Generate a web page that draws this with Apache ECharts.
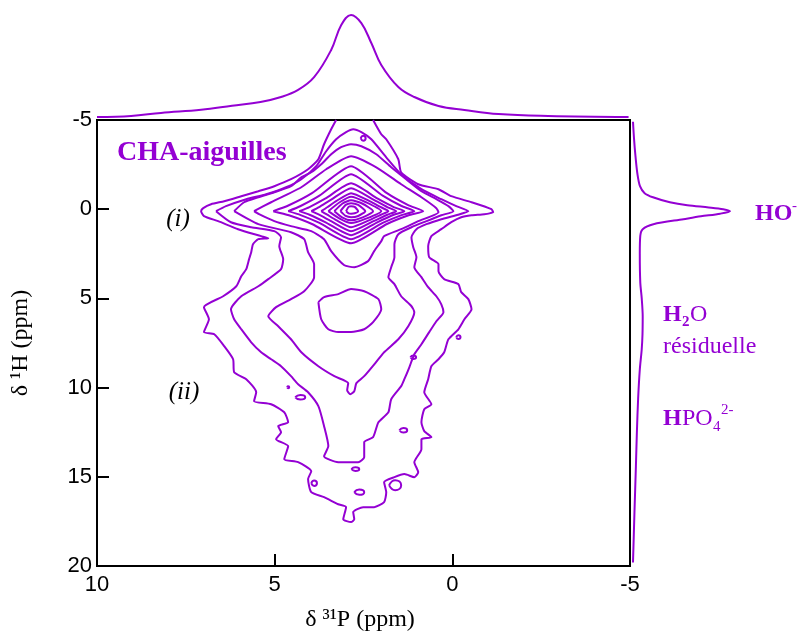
<!DOCTYPE html>
<html><head><meta charset="utf-8">
<script src="https://cdn.jsdelivr.net/npm/echarts@6/dist/echarts.min.js"></script>
<style>html,body{margin:0;padding:0;background:#fff}#chart{width:801px;height:636px}</style>
</head><body><div id="chart"></div>
<script>
const PURPLE = '#9400d3';
const SERIF = '"Liberation Serif","Times New Roman",serif';
const SANS = '"Liberation Sans",Arial,sans-serif';

// axis ranges (ppm)
const pRange = [-5, 10];   // 31P
const hRange = [-5, 20];   // 1H
const tickStep = 5;

// top projection (31P ppm, relative intensity)
const pProjPpm = [10, 9.04, 8.2, 7.07, 6.2, 5.4, 4.82, 4.34, 3.89, 3.41, 3.13, 2.85, 2.56, 2.28, 2.0, 1.52, 1.07, 0.39, -0.34, -1.3, -2.7, -4.96];
const pProjInt = [0, 0.01, 0.04, 0.07, 0.11, 0.147, 0.196, 0.265, 0.39, 0.657, 0.90, 1.0, 0.92, 0.725, 0.51, 0.294, 0.196, 0.108, 0.069, 0.029, 0.01, 0];

// right projection (1H ppm, relative intensity)
const hProjPpm = [-4.9, -4.0, -3.0, -2.0, -1.29, -0.9, -0.67, -0.39, -0.22, -0.1, 0.0, 0.11, 0.25, 0.4, 0.56, 0.84, 1.12, 1.5, 2.5, 4.1, 5.0, 6.0, 7.0, 7.85, 9.0, 10.6, 12.5, 14.4, 17.0, 19.8];
const hProjInt = [0.0, 0.01, 0.025, 0.045, 0.072, 0.12, 0.206, 0.38, 0.56, 0.78, 0.93, 1.0, 0.90, 0.70, 0.52, 0.21, 0.10, 0.075, 0.07, 0.075, 0.09, 0.10, 0.098, 0.09, 0.07, 0.053, 0.04, 0.03, 0.015, 0.0];

// contour levels [31P ppm, 1H ppm]
const contourC1 = [[3.27,-5.0],[3.41,-4.48],[3.61,-3.64],[3.77,-2.80],[4.06,-2.24],[4.54,-1.68],[5.01,-1.29],[5.46,-1.01],[5.94,-0.73],[6.42,-0.45],[6.79,-0.28],[7.01,-0.06],[7.07,0.11],[6.99,0.39],[6.59,0.67],[6.03,1.12],[5.38,1.51],[5.18,1.63],[5.46,1.68],[5.61,1.96],[5.66,2.41],[5.72,2.80],[5.80,3.36],[5.94,3.76],[6.08,4.32],[6.45,4.88],[6.99,5.49],[6.85,6.17],[6.99,6.89],[6.70,7.01],[6.42,7.68],[6.17,8.41],[6.14,9.14],[5.80,9.53],[5.52,10.26],[5.58,10.76],[5.10,10.93],[4.73,11.38],[4.62,11.94],[4.90,12.16],[4.82,12.50],[4.96,12.89],[4.62,13.28],[4.73,14.01],[4.34,14.18],[3.97,14.69],[4.06,15.13],[3.97,15.86],[3.61,16.14],[3.21,16.54],[2.99,16.70],[3.07,17.38],[2.85,17.54],[2.76,17.38],[2.79,16.98],[2.51,16.70],[2.20,16.70],[1.92,16.42],[1.86,15.86],[1.92,15.30],[1.63,15.02],[1.35,14.85],[1.07,15.02],[0.96,14.74],[1.07,14.18],[0.87,13.45],[0.87,12.89],[0.59,12.78],[0.79,12.44],[0.87,11.94],[0.79,11.21],[0.59,10.93],[0.79,10.26],[0.68,9.53],[0.59,8.80],[0.39,8.41],[0.23,8.02],[0.11,7.29],[-0.17,6.73],[-0.34,6.17],[-0.54,5.61],[-0.45,5.04],[-0.25,4.65],[-0.17,4.20],[0.23,3.92],[0.39,3.48],[0.39,3.08],[0.65,2.69],[0.68,2.07],[0.59,1.51],[0.31,1.12],[0.03,0.73],[-0.25,0.45],[-0.54,0.34],[-0.90,0.28],[-1.15,0.17],[-1.10,0],[-0.54,-0.39],[0.03,-0.73],[0.39,-1.12],[0.96,-1.40],[1.44,-2.07],[1.52,-2.80],[1.86,-3.92],[2.00,-4.20],[2.23,-5.0]];
const contourC2 = [[6.65,0.11],[6.37,-0.17],[5.80,-0.56],[5.24,-0.84],[4.68,-1.23],[4.25,-1.68],[3.83,-2.41],[3.55,-3.25],[3.27,-3.92],[2.99,-4.32],[2.79,-4.48],[2.56,-4.32],[2.28,-3.92],[1.86,-2.91],[1.44,-1.96],[0.87,-1.12],[0.31,-0.56],[-0.11,-0.17],[-0.45,0.11],[-0.11,0.34],[0.31,0.56],[0.73,0.84],[1.01,1.12],[1.15,1.57],[1.10,2.13],[1.01,2.69],[1.07,3.25],[0.87,3.81],[0.68,4.37],[0.45,4.88],[0.31,5.33],[0.25,5.77],[0.45,6.28],[0.65,6.89],[0.87,7.57],[1.07,8.13],[1.21,8.86],[1.35,9.53],[1.44,9.92],[1.72,10.65],[1.80,11.38],[2.08,11.94],[2.23,12.78],[2.48,13.06],[2.48,13.90],[2.65,14.18],[3.21,14.18],[3.61,13.85],[3.49,13.28],[3.61,12.16],[3.77,11.04],[4.06,10.26],[4.34,9.81],[4.54,9.36],[4.82,8.80],[5.10,8.41],[5.38,8.02],[5.66,7.46],[5.94,6.73],[6.14,6.17],[6.23,5.61],[5.94,4.88],[5.46,4.32],[5.18,3.92],[4.82,3.36],[4.76,2.80],[4.87,2.07],[4.82,1.57],[5.01,1.23],[5.66,1.01],[6.23,0.73],[6.65,0.11]];
const contourC3 = [[6.14,0.11],[5.86,-0.39],[5.46,-0.67],[5.01,-0.95],[4.54,-1.29],[4.25,-1.79],[3.97,-2.07],[3.69,-2.52],[3.41,-3.08],[3.13,-3.48],[2.85,-3.64],[2.56,-3.53],[2.14,-3.08],[1.72,-2.35],[1.30,-1.68],[0.87,-1.01],[0.45,-0.56],[0.11,-0.17],[-0.03,0.11],[0.31,0.34],[0.73,0.67],[1.15,1.01],[1.52,1.40],[1.63,1.96],[1.63,2.69],[1.72,3.25],[1.80,3.81],[1.63,4.20],[1.44,4.88],[1.15,5.44],[1.07,5.77],[1.24,6.56],[1.52,7.29],[1.92,8.02],[2.08,8.41],[2.48,9.36],[2.70,9.75],[2.76,10.20],[2.87,10.37],[2.96,10.15],[2.93,9.75],[3.32,9.36],[3.77,8.80],[4.25,8.02],[4.54,7.29],[4.90,6.56],[5.18,6.00],[4.96,5.49],[4.54,5.04],[4.17,4.60],[3.89,3.81],[3.89,3.08],[4.06,2.41],[4.17,1.68],[4.54,1.29],[5.46,0.84],[6.14,0.11]];
const contourC4 = [[3.77,5.21],[3.69,6.17],[3.49,6.73],[3.21,6.89],[2.85,6.89],[2.48,6.73],[2.23,6.33],[2.00,5.61],[2.08,5.04],[2.48,4.60],[2.85,4.48],[3.21,4.76],[3.61,4.93],[3.77,5.21]];
const contourD1 = [[5.58,0.11],[5.10,-0.39],[4.25,-1.23],[3.55,-2.24],[2.85,-2.97],[2.14,-2.35],[1.44,-1.40],[0.87,-0.67],[0.45,-0.06],[0.39,0.17],[0.96,0.67],[1.44,1.12],[1.92,1.51],[2.00,1.79],[2.20,2.35],[2.37,2.91],[2.76,3.25],[3.04,3.14],[3.41,2.35],[3.61,1.68],[3.97,1.23],[4.54,0.95],[5.01,0.67],[5.44,0.28],[5.58,0.11]];
const contourD2 = [[5.04,0.11],[4.60,-0.22],[3.95,-0.90],[2.85,-2.41],[1.84,-0.90],[1.23,-0.22],[0.82,0.11],[1.23,0.34],[1.84,0.83],[2.85,1.91],[3.95,0.83],[4.60,0.34],[5.04,0.11]];
const contourD3 = [[4.62,0.11],[4.27,-0.18],[3.74,-0.76],[2.85,-1.96],[1.96,-0.76],[1.43,-0.18],[1.07,0.11],[1.43,0.33],[1.96,0.77],[2.85,1.68],[3.74,0.77],[4.27,0.33],[4.62,0.11]];
const contourD4 = [[4.31,0.11],[4.02,-0.12],[3.58,-0.59],[2.85,-1.45],[2.10,-0.59],[1.65,-0.12],[1.35,0.11],[1.65,0.31],[2.10,0.72],[2.85,1.46],[3.58,0.72],[4.02,0.31],[4.31,0.11]];
const contourD5 = [[3.97,0.11],[3.75,-0.12],[3.41,-0.54],[2.85,-1.18],[2.22,-0.54],[1.83,-0.12],[1.58,0.11],[1.83,0.31],[2.22,0.67],[2.85,1.23],[3.41,0.67],[3.75,0.31],[3.97,0.11]];
const contourD6 = [[3.69,0.11],[3.52,-0.11],[3.27,-0.45],[2.85,-0.90],[2.33,-0.45],[2.01,-0.11],[1.80,0.11],[2.01,0.31],[2.33,0.61],[2.85,1.01],[3.27,0.61],[3.52,0.31],[3.69,0.11]];
const contourD7 = [[3.49,0.11],[3.17,-0.39],[2.85,-0.70],[2.43,-0.39],[2.00,0.11],[2.43,0.53],[2.85,0.78],[3.17,0.53],[3.49,0.11]];
const contourD8 = [[3.32,0.11],[3.09,-0.32],[2.85,-0.50],[2.54,-0.32],[2.23,0.11],[2.54,0.47],[2.85,0.62],[3.09,0.47],[3.32,0.11]];
const contourD9 = [[3.15,0.11],[3.00,-0.24],[2.85,-0.34],[2.65,-0.24],[2.45,0.11],[2.65,0.38],[2.85,0.45],[3.00,0.38],[3.15,0.11]];
const contourD10 = [[2.99,0.11],[2.92,-0.13],[2.85,-0.17],[2.75,-0.13],[2.65,0.11],[2.75,0.23],[2.85,0.25],[2.92,0.23],[2.99,0.11]];

// small isolated contour islands
const island1 = [[2.58,-3.98],[2.51,-4.12],[2.44,-3.98],[2.51,-3.84],[2.58,-3.98]];
const island2 = [[-0.11,7.17],[-0.17,7.06],[-0.23,7.17],[-0.17,7.28],[-0.11,7.17]];
const island3 = [[1.18,8.30],[1.10,8.20],[1.02,8.30],[1.10,8.40],[1.18,8.30]];
const island4 = [[4.65,9.98],[4.62,9.93],[4.59,9.98],[4.62,10.03],[4.65,9.98]];
const island5 = [[4.42,10.54],[4.28,10.41],[4.14,10.54],[4.28,10.67],[4.42,10.54]];
const island6 = [[1.49,12.39],[1.38,12.26],[1.27,12.39],[1.38,12.52],[1.49,12.39]];
const island7 = [[2.84,14.57],[2.73,14.47],[2.62,14.57],[2.73,14.67],[2.84,14.57]];
const island8 = [[3.97,15.36],[3.89,15.21],[3.81,15.36],[3.89,15.51],[3.97,15.36]];
const island9 = [[2.76,15.86],[2.62,15.71],[2.48,15.86],[2.62,16.01],[2.76,15.86]];
const island10 = [[1.78,15.47],[1.61,15.19],[1.44,15.47],[1.61,15.75],[1.78,15.47]];

const mainContours = [contourC1, contourC2, contourC3, contourC4, contourD1, contourD2, contourD3, contourD4, contourD5, contourD6, contourD7, contourD8, contourD9, contourD10];
const islands = [island1, island2, island3, island4, island5, island6, island7, island8, island9, island10];

const lineStyle = {color: PURPLE, width: 2};
const series = [];
mainContours.forEach(c => series.push({type:'line', xAxisIndex:0, yAxisIndex:0, data:c, symbol:'none', smooth:0.2, lineStyle, silent:true}));
islands.forEach(c => series.push({type:'line', xAxisIndex:0, yAxisIndex:0, data:c, symbol:'none', smooth:0.6, lineStyle, silent:true}));
series.push({type:'line', xAxisIndex:1, yAxisIndex:1, data:pProjPpm.map((p,i)=>[p,pProjInt[i]]), symbol:'none', smooth:0.4, lineStyle, silent:true});
series.push({type:'line', xAxisIndex:2, yAxisIndex:2, data:hProjPpm.map((h,i)=>[hProjInt[i],h]), symbol:'none', smooth:0.3, lineStyle, silent:true});

const axisLine = {show:true, onZero:false, lineStyle:{color:'#000', width:2}};
const axisTick = {show:true, inside:true, length:12, lineStyle:{color:'#000', width:2}};
const labelBase = {color:'#000', fontSize:22, fontFamily:SANS, showMinLabel:true, showMaxLabel:true};

const chart = echarts.init(document.getElementById('chart'));
chart.setOption({
  animation:false,
  grid:[
    {left:97, top:120, width:533, height:446, show:true, borderColor:'#000', borderWidth:2, backgroundColor:'transparent'},
    {left:97, top:15, width:533, height:102},
    {left:633, top:120, width:97, height:446}
  ],
  xAxis:[
    {gridIndex:0, type:'value', min:pRange[0], max:pRange[1], interval:tickStep, inverse:true, axisLine, axisTick, axisLabel:Object.assign({margin:8}, labelBase), splitLine:{show:false}},
    {gridIndex:1, type:'value', min:pRange[0], max:pRange[1], inverse:true, show:false},
    {gridIndex:2, type:'value', min:0, max:1, show:false}
  ],
  yAxis:[
    {gridIndex:0, type:'value', min:hRange[0], max:hRange[1], interval:tickStep, inverse:true, axisLine, axisTick, axisLabel:Object.assign({margin:5}, labelBase), splitLine:{show:false}},
    {gridIndex:1, type:'value', min:0, max:1, show:false},
    {gridIndex:2, type:'value', min:hRange[0], max:hRange[1], inverse:true, show:false}
  ],
  series,
  graphic:[
    {type:'text', x:117, y:153, style:{text:'CHA-aiguilles', font:'bold 28px '+SERIF, fill:PURPLE, align:'left', verticalAlign:'middle'}},
    {type:'text', x:178, y:219, style:{text:'(i)', font:'italic 25px '+SERIF, fill:'#000', align:'center', verticalAlign:'middle'}},
    {type:'text', x:184, y:392, style:{text:'(ii)', font:'italic 25px '+SERIF, fill:'#000', align:'center', verticalAlign:'middle'}},
    {type:'text', x:360, y:620, style:{text:'δ ³¹P (ppm)', font:'24px '+SERIF, fill:'#000', align:'center', verticalAlign:'middle'}},
    {type:'text', x:21, y:343, rotation:Math.PI/2, style:{text:'δ ¹H (ppm)', font:'24px '+SERIF, fill:'#000', align:'center', verticalAlign:'middle'}},
    {type:'text', x:755, y:214, style:{text:'HO', font:'bold 24px '+SERIF, fill:PURPLE, align:'left', verticalAlign:'middle'}},
    {type:'text', x:792, y:206, style:{text:'-', font:'15px '+SERIF, fill:PURPLE, align:'left', verticalAlign:'middle'}},
    {type:'text', x:663, y:315, style:{text:'H', font:'bold 24px '+SERIF, fill:PURPLE, align:'left', verticalAlign:'middle'}},
    {type:'text', x:682, y:322, style:{text:'2', font:'bold 15px '+SERIF, fill:PURPLE, align:'left', verticalAlign:'middle'}},
    {type:'text', x:690, y:315, style:{text:'O', font:'24px '+SERIF, fill:PURPLE, align:'left', verticalAlign:'middle'}},
    {type:'text', x:663, y:347, style:{text:'résiduelle', font:'24px '+SERIF, fill:PURPLE, align:'left', verticalAlign:'middle'}},
    {type:'text', x:663, y:419, style:{text:'H', font:'bold 24px '+SERIF, fill:PURPLE, align:'left', verticalAlign:'middle'}},
    {type:'text', x:682, y:419, style:{text:'PO', font:'24px '+SERIF, fill:PURPLE, align:'left', verticalAlign:'middle'}},
    {type:'text', x:713, y:427, style:{text:'4', font:'15px '+SERIF, fill:PURPLE, align:'left', verticalAlign:'middle'}},
    {type:'text', x:721, y:410, style:{text:'2-', font:'15px '+SERIF, fill:PURPLE, align:'left', verticalAlign:'middle'}}
  ]
});
</script></body></html>
